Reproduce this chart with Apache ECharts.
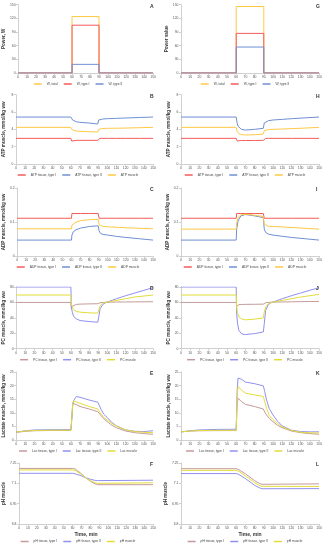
<!DOCTYPE html>
<html><head><meta charset="utf-8">
<script src="https://cdn.jsdelivr.net/npm/echarts@6/dist/echarts.min.js"></script>
<style>html,body{margin:0;padding:0;background:#fff}#c{width:327px;height:550px}</style>
</head><body><div id="c"></div>
<script>
// ---------- DATA ----------
const powerTime = [0, 60, 60, 90, 90, 150];
const A_total = [0, 0, 124, 124, 0, 0];
const A_typeI = [0, 0, 105, 105, 0, 0];
const A_typeII = [0, 0, 19, 19, 0, 0];
const G_total = [0, 0, 146, 146, 0, 0];
const G_typeI = [0, 0, 87, 87, 0, 0];
const G_typeII = [0, 0, 57, 57, 0, 0];

const tB = [0, 60, 61, 62, 63, 66, 70, 80, 89.5, 90.5, 92, 95, 100, 110, 120, 135, 150];
const B_typeI = [2.96, 2.96, 2.65, 2.73, 2.73, 2.73, 2.73, 2.73, 2.73, 2.92, 2.96, 2.96, 2.96, 2.96, 2.96, 2.96, 2.96];
const B_typeII = [5.42, 5.42, 5.19, 5.08, 5.0, 4.88, 4.81, 4.73, 4.62, 5.08, 5.15, 5.19, 5.23, 5.27, 5.31, 5.37, 5.42];
const B_muscle = [4.23, 4.23, 4.0, 3.92, 3.85, 3.8, 3.77, 3.73, 3.69, 4.0, 4.08, 4.1, 4.12, 4.13, 4.15, 4.19, 4.23];
const H_typeI = [2.96, 2.96, 2.66, 2.71, 2.71, 2.71, 2.71, 2.72, 2.73, 2.92, 2.96, 2.96, 2.96, 2.96, 2.96, 2.96, 2.96];
const H_typeII = [5.42, 5.42, 4.73, 4.35, 4.2, 3.98, 3.92, 4.0, 4.12, 4.73, 4.92, 5.0, 5.08, 5.15, 5.23, 5.33, 5.42];
const H_muscle = [4.23, 4.23, 3.77, 3.6, 3.5, 3.39, 3.35, 3.38, 3.46, 3.85, 3.96, 3.98, 4.0, 4.04, 4.08, 4.15, 4.23];

const tC = [0, 60, 60.5, 62, 65, 70, 80, 89.5, 90.5, 92, 95, 100, 110, 120, 135, 150];
const C_typeI = [0.111, 0.111, 0.125, 0.125, 0.125, 0.125, 0.125, 0.125, 0.111, 0.111, 0.111, 0.111, 0.111, 0.111, 0.111, 0.111];
const C_typeII = [0.0468, 0.0468, 0.0615, 0.0712, 0.077, 0.082, 0.0868, 0.0888, 0.0741, 0.0663, 0.0634, 0.0615, 0.0576, 0.0546, 0.0507, 0.0468];
const C_muscle = [0.080, 0.080, 0.0907, 0.0956, 0.0995, 0.104, 0.107, 0.108, 0.0917, 0.0878, 0.0868, 0.0859, 0.0845, 0.083, 0.0815, 0.080];
const I_typeI = [0.111, 0.111, 0.125, 0.125, 0.125, 0.125, 0.125, 0.125, 0.111, 0.111, 0.111, 0.111, 0.111, 0.111, 0.111, 0.111];
const I_typeII = [0.0468, 0.0468, 0.079, 0.103, 0.118, 0.122, 0.118, 0.113, 0.079, 0.0693, 0.0644, 0.0615, 0.058, 0.0546, 0.0507, 0.0468];
const I_muscle = [0.079, 0.079, 0.0985, 0.113, 0.121, 0.123, 0.12, 0.116, 0.0937, 0.0888, 0.0875, 0.0868, 0.0855, 0.0839, 0.0815, 0.079];

const tD = [0, 60, 60.5, 61.5, 63, 66, 70, 80, 89.5, 90.5, 92, 95, 98, 100, 110, 120, 130, 140, 150];
const D_typeI = [60, 60, 52, 55, 56.5, 57.4, 57.8, 58.1, 58.3, 58.8, 59.6, 60, 60.2, 60.4, 60.5, 60.6, 60.7, 60.8, 60.9];
const D_typeII = [80, 80, 53.9, 47.4, 41.7, 38.7, 36.5, 35.2, 34.3, 40.9, 51.7, 57.4, 59.6, 60.9, 64.8, 68.7, 72.2, 75.7, 79.1];
const D_muscle = [69.6, 69.6, 58.3, 53.9, 50.4, 48.3, 47.4, 46.5, 46.1, 50.4, 56, 59.1, 60, 60.4, 62.6, 64.8, 67, 68.3, 69.6];
const J_typeI = [60, 60, 55, 56.5, 57.2, 57.4, 57.5, 57.6, 57.8, 58.5, 59.6, 60, 60.3, 60.4, 60.6, 60.8, 61, 61.2, 61.3];
const J_typeII = [80, 80, 45.2, 32.2, 23.5, 19.1, 18.3, 19.6, 21.7, 32.2, 49.6, 57.4, 59.6, 60.9, 64.8, 68.7, 72.2, 75.7, 79.1];
const J_muscle = [69.6, 69.6, 53.9, 46, 41, 38.5, 37.4, 38.3, 40, 47.4, 53.9, 58.3, 59.8, 60.4, 62.6, 64.8, 67, 68.7, 70.4];

const tE = [0, 10, 20, 40, 60, 61, 62, 63, 66, 70, 80, 89.5, 91, 93, 96, 100, 105, 110, 120, 130, 140, 150];
const E_typeI = [2.8, 3.2, 3.4, 3.5, 3.5, 8, 13.5, 13.7, 13, 12.3, 11.4, 10.4, 9.8, 9.0, 7.8, 6.7, 5.4, 4.5, 3.3, 2.7, 2.35, 2.1];
const E_typeII = [2.9, 3.4, 3.7, 3.8, 3.8, 8, 12.9, 14.5, 16.0, 15.7, 14.7, 13.9, 12.8, 11.3, 9.5, 8.2, 6.4, 5.2, 3.7, 3.2, 3.1, 3.4];
const E_muscle = [2.9, 3.3, 3.5, 3.6, 3.6, 8, 13.5, 14.4, 14.0, 13.5, 12.3, 11.4, 10.6, 9.6, 8.3, 7.3, 6.1, 5.1, 3.7, 3.1, 2.85, 2.7];
const K_typeI = [2.97, 3.3, 3.4, 3.45, 3.47, 12.9, 15.3, 15.1, 14.1, 13.1, 12.3, 11.4, 10.2, 9.2, 7.9, 6.7, 5.4, 4.5, 3.3, 2.7, 2.35, 2.1];
const K_typeII = [2.97, 3.4, 3.7, 3.9, 3.96, 17.8, 22.8, 23.4, 22.3, 21.3, 20.7, 19.9, 17.8, 14.7, 11.5, 9.2, 6.9, 5.2, 3.6, 3.1, 3.0, 3.0];
const K_muscle = [2.97, 3.3, 3.47, 3.55, 3.6, 15.3, 19.7, 19.3, 18.3, 17.2, 16.6, 16.0, 14.1, 11.6, 9.0, 7.5, 6.1, 4.8, 3.5, 2.85, 2.6, 2.6];

const tF = [0, 60, 63, 70, 75, 80, 85, 88, 90, 150];
const F_typeI = [7.21, 7.21, 7.205, 7.17, 7.14, 7.115, 7.097, 7.09, 7.088, 7.09];
const F_typeII = [7.174, 7.174, 7.17, 7.155, 7.14, 7.13, 7.122, 7.12, 7.12, 7.123];
const F_muscle = [7.199, 7.199, 7.195, 7.165, 7.14, 7.12, 7.105, 7.1, 7.098, 7.104];
const L_typeI = [7.208, 7.208, 7.2, 7.17, 7.145, 7.12, 7.1, 7.093, 7.09, 7.096];
const L_typeII = [7.172, 7.172, 7.165, 7.135, 7.11, 7.085, 7.068, 7.06, 7.058, 7.061];
const L_muscle = [7.196, 7.196, 7.188, 7.155, 7.13, 7.105, 7.085, 7.078, 7.075, 7.077];

// ---------- STYLE / LAYOUT ----------
const C1 = {yel: '#ffc845', red: '#f45a5a', blu: '#6f8fd4'};
const C2 = {t1: '#c49a9a', t2: '#9090ee', mu: '#e2dc3a'};
const rows = [[4.7, 73], [94.7, 164], [188, 256], [287, 348.7], [372, 440], [463, 524]];
const cols = [[16, 137], [181, 138]];
const legendCenters = [78, 245];
const FONT = 'Liberation Sans';
const LEG_FS = 3.3, LEG_IW = 8, LEG_GAP = 6;

const mctx = document.createElement('canvas').getContext('2d');
mctx.font = LEG_FS + 'px ' + FONT;
function legendWidth(names) {
  let w = 0;
  names.forEach(n => { w += LEG_IW + 5 + mctx.measureText(n).width; });
  return w + LEG_GAP * (names.length - 1);
}

const option = {animation: false, grid: [], xAxis: [], yAxis: [], series: [], legend: [], title: []};

function zip(t, v) { return t.map((x, i) => [x, v[i]]); }

function panel(r, c, letter, yName, y, ser, legendOrder, timeName) {
  const idx = option.grid.length;
  const [top, bot] = rows[r];
  const [left, w] = cols[c];
  option.grid.push({left: left, top: top, width: w, height: bot - top});
  option.xAxis.push({
    type: 'value', gridIndex: idx, min: 0, max: 150, interval: 10,
    axisLine: {lineStyle: {color: '#d0d0d0', width: 1}},
    axisTick: {show: true, length: 2, lineStyle: {color: '#d0d0d0'}},
    axisLabel: {fontSize: 3.4, color: '#555', margin: 2.5, fontFamily: FONT},
    splitLine: {show: false},
    name: timeName ? 'Time, min' : '', nameLocation: 'middle', nameGap: 8,
    nameTextStyle: {fontSize: 5, fontWeight: 'bold', color: '#333', fontFamily: FONT}
  });
  option.yAxis.push(Object.assign({
    type: 'value', gridIndex: idx,
    axisLine: {show: true, lineStyle: {color: '#d0d0d0', width: 1}},
    axisTick: {show: true, length: 2, lineStyle: {color: '#d0d0d0'}},
    axisLabel: {fontSize: 3.4, color: '#555', margin: 2.5, fontFamily: FONT},
    splitLine: {show: false},
    name: yName, nameLocation: 'middle', nameGap: 10,
    nameTextStyle: {fontSize: 4.6, fontWeight: 'bold', color: '#333', fontFamily: FONT}
  }, y));
  ser.forEach(s => {
    option.series.push({
      type: 'line', name: s.name, xAxisIndex: idx, yAxisIndex: idx,
      data: zip(s.t, s.v), symbol: 'none', smooth: false,
      lineStyle: {color: s.color, width: 1}, itemStyle: {color: s.color}
    });
  });
  const lw = legendWidth(legendOrder);
  option.legend.push({
    data: legendOrder, left: legendCenters[c] - lw / 2, top: bot + (timeName ? 16 : 9.5),
    width: 300, padding: 0,
    itemWidth: LEG_IW, itemHeight: 1.5, itemGap: LEG_GAP, icon: 'rect', selectedMode: false,
    textStyle: {fontSize: LEG_FS, color: '#444', fontFamily: FONT}
  });
  option.title.push({
    text: letter, left: left + w - 3, top: top - 1, padding: 0,
    textStyle: {fontSize: 5, fontWeight: 'bold', color: '#333', fontFamily: FONT}
  });
}

panel(0, 0, 'A', 'Power, W', {min: 0, max: 150, interval: 30}, [
  {name: 'W, total', t: powerTime, v: A_total, color: C1.yel},
  {name: 'W, type I', t: powerTime, v: A_typeI, color: C1.red},
  {name: 'W, type II', t: powerTime, v: A_typeII, color: C1.blu}], ['W, total', 'W, type I', 'W, type II']);
panel(0, 1, 'G', 'Power value', {min: 0, max: 150, interval: 30}, [
  {name: 'W, total', t: powerTime, v: G_total, color: C1.yel},
  {name: 'W, type I', t: powerTime, v: G_typeI, color: C1.red},
  {name: 'W, type II', t: powerTime, v: G_typeII, color: C1.blu}], ['W, total', 'W, type I', 'W, type II']);

const bNames = ['ATP tissue, type I', 'ATP tissue, type II', 'ATP muscle'];
panel(1, 0, 'B', 'ATP muscle, mmol/kg ww', {min: 0, max: 8, interval: 2}, [
  {name: bNames[0], t: tB, v: B_typeI, color: C1.red},
  {name: bNames[1], t: tB, v: B_typeII, color: C1.blu},
  {name: bNames[2], t: tB, v: B_muscle, color: C1.yel}], bNames);
panel(1, 1, 'H', 'ATP muscle, mmol/kg ww', {min: 0, max: 8, interval: 2}, [
  {name: bNames[0], t: tB, v: H_typeI, color: C1.red},
  {name: bNames[1], t: tB, v: H_typeII, color: C1.blu},
  {name: bNames[2], t: tB, v: H_muscle, color: C1.yel}], bNames);

const cNames = ['ADP tissue, type I', 'ADP tissue, type II', 'ADP muscle'];
panel(2, 0, 'C', 'ADP muscle, mmol/kg ww', {min: 0, max: 0.2, interval: 0.1}, [
  {name: cNames[0], t: tC, v: C_typeI, color: C1.red},
  {name: cNames[1], t: tC, v: C_typeII, color: C1.blu},
  {name: cNames[2], t: tC, v: C_muscle, color: C1.yel}], cNames);
panel(2, 1, 'I', 'ADP muscle, mmol/kg ww', {min: 0, max: 0.2, interval: 0.1}, [
  {name: cNames[0], t: tC, v: I_typeI, color: C1.red},
  {name: cNames[1], t: tC, v: I_typeII, color: C1.blu},
  {name: cNames[2], t: tC, v: I_muscle, color: C1.yel}], cNames);

const dNames = ['PC tissue, type I', 'PC tissue, type II', 'PC muscle'];
panel(3, 0, 'D', 'PC muscle, mmol/kg ww', {min: 0, max: 80, interval: 20}, [
  {name: dNames[0], t: tD, v: D_typeI, color: C2.t1},
  {name: dNames[1], t: tD, v: D_typeII, color: C2.t2},
  {name: dNames[2], t: tD, v: D_muscle, color: C2.mu}], dNames);
panel(3, 1, 'J', 'PC muscle, mmol/kg ww', {min: 0, max: 80, interval: 20}, [
  {name: dNames[0], t: tD, v: J_typeI, color: C2.t1},
  {name: dNames[1], t: tD, v: J_typeII, color: C2.t2},
  {name: dNames[2], t: tD, v: J_muscle, color: C2.mu}], dNames);

const eNames = ['Lac tissue, type I', 'Lac tissue, type II', 'Lac muscle'];
panel(4, 0, 'E', 'Lactate muscle, mmol/kg ww', {min: 0, max: 25, interval: 5}, [
  {name: eNames[0], t: tE, v: E_typeI, color: C2.t1},
  {name: eNames[1], t: tE, v: E_typeII, color: C2.t2},
  {name: eNames[2], t: tE, v: E_muscle, color: C2.mu}], eNames);
panel(4, 1, 'K', 'Lactate muscle, mmol/kg ww', {min: 0, max: 25, interval: 5}, [
  {name: eNames[0], t: tE, v: K_typeI, color: C2.t1},
  {name: eNames[1], t: tE, v: K_typeII, color: C2.t2},
  {name: eNames[2], t: tE, v: K_muscle, color: C2.mu}], eNames);

const fNames = ['pH tissue, type I', 'pH tissue, type II', 'pH muscle'];
panel(5, 0, 'F', 'pH muscle', {min: 6.8, max: 7.25, interval: 0.15}, [
  {name: fNames[0], t: tF, v: F_typeI, color: C2.t1},
  {name: fNames[1], t: tF, v: F_typeII, color: C2.t2},
  {name: fNames[2], t: tF, v: F_muscle, color: C2.mu}], fNames, true);
panel(5, 1, 'L', 'pH muscle', {min: 6.8, max: 7.25, interval: 0.15}, [
  {name: fNames[0], t: tF, v: L_typeI, color: C2.t1},
  {name: fNames[1], t: tF, v: L_typeII, color: C2.t2},
  {name: fNames[2], t: tF, v: L_muscle, color: C2.mu}], fNames, true);

const chart = echarts.init(document.getElementById('c'), null, {renderer: 'canvas'});
chart.setOption(option);
</script>
</body></html>
